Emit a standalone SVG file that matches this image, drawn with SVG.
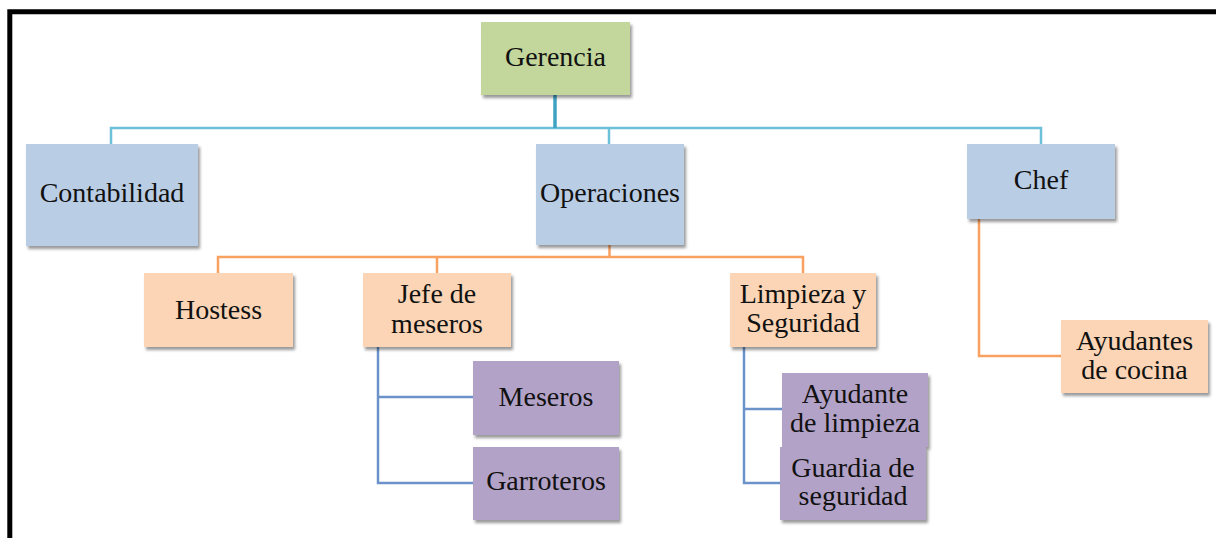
<svg xmlns="http://www.w3.org/2000/svg" width="1216" height="538" viewBox="0 0 1216 538">
<defs>
<filter id="sh" x="-10%" y="-10%" width="125%" height="130%">
<feDropShadow dx="2" dy="3" stdDeviation="1.8" flood-color="#000" flood-opacity="0.4"/>
</filter>
</defs>
<style>
text{font-family:"Liberation Serif","Times New Roman",serif;font-size:28px;fill:#111;text-anchor:middle}
.g{fill:#c3d69b}
.b{fill:#b9cde5}
.o{fill:#fbd5b5}
.p{fill:#b3a2c7}
.cb{fill:none;stroke:#6cc0d8;stroke-width:2.5}
.co{fill:none;stroke:#f9a160;stroke-width:2.5}
.cl{fill:none;stroke:#6b93c9;stroke-width:2.5}
</style>
<rect x="0" y="0" width="1216" height="538" fill="#fff"/>
<path d="M9.8 538 V11.7 H1216" fill="none" stroke="#000" stroke-width="5"/>
<g id="connectors">
<path class="cb" d="M111 144 V128 H1041 V144"/>
<path class="cb" d="M609 128 V144"/>
<path d="M555 95 V128" fill="none" stroke="#3ea3c2" stroke-width="3.5"/>
<path class="co" d="M218 273 V257 H803 V273"/>
<path class="co" d="M437 257 V273"/>
<path class="co" d="M609.5 245 V257"/>
<path class="co" d="M979 219 V356 H1061"/>
<path class="cl" d="M378 347 V483 H473"/>
<path class="cl" d="M378 397 H473"/>
<path class="cl" d="M744 347 V483 H781"/>
<path class="cl" d="M744 409 H782"/>
</g>
<g id="gerencia"><rect class="g" x="481" y="22" width="149" height="73" filter="url(#sh)"/><text x="555.5" y="66">Gerencia</text></g>
<g id="contabilidad"><rect class="b" x="26" y="144" width="172" height="102" filter="url(#sh)"/><text x="112" y="202">Contabilidad</text></g>
<g id="operaciones"><rect class="b" x="536" y="144" width="148" height="101" filter="url(#sh)"/><text x="610" y="202">Operaciones</text></g>
<g id="chef"><rect class="b" x="967" y="144" width="148" height="75" filter="url(#sh)"/><text x="1041" y="189">Chef</text></g>
<g id="hostess"><rect class="o" x="144" y="273" width="149" height="74" filter="url(#sh)"/><text x="218.5" y="319">Hostess</text></g>
<g id="jefe-meseros"><rect class="o" x="363" y="273" width="148" height="74" filter="url(#sh)"/><text x="437" y="303">Jefe de</text><text x="437" y="333">meseros</text></g>
<g id="limpieza-seguridad"><rect class="o" x="730" y="273" width="146" height="74" filter="url(#sh)"/><text x="803" y="303">Limpieza y</text><text x="803" y="332">Seguridad</text></g>
<g id="ayudantes-cocina"><rect class="o" x="1061" y="320" width="147" height="73" filter="url(#sh)"/><text x="1134.5" y="350">Ayudantes</text><text x="1134.5" y="379">de cocina</text></g>
<g id="meseros"><rect class="p" x="473" y="361" width="146" height="74" filter="url(#sh)"/><text x="546" y="406">Meseros</text></g>
<g id="garroteros"><rect class="p" x="473" y="447" width="146" height="73" filter="url(#sh)"/><text x="546" y="490">Garroteros</text></g>
<g id="ayudante-limpieza"><rect class="p" x="782" y="373" width="146" height="74" filter="url(#sh)"/><text x="855" y="403">Ayudante</text><text x="855" y="432">de limpieza</text></g>
<g id="guardia-seguridad"><rect class="p" x="780" y="447" width="146" height="73" filter="url(#sh)"/><text x="853" y="477">Guardia de</text><text x="853" y="505">seguridad</text></g>
</svg>
